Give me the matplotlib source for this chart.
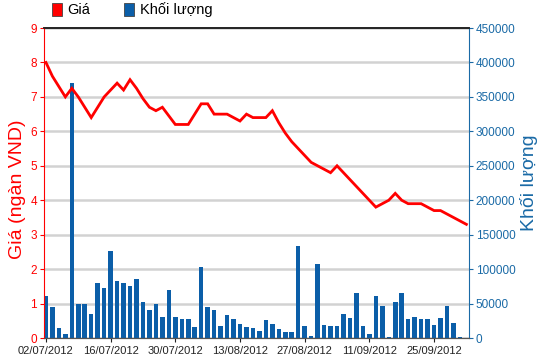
import numpy as np
import matplotlib
matplotlib.use("Agg")
import matplotlib.pyplot as plt
from matplotlib.patches import Patch

plt.rcParams['font.family'] = ['Liberation Sans', 'DejaVu Sans']

# daily price (ngan VND), one value per trading day
price = [8.0, 7.6, 7.3, 7.0, 7.25, 7.0, 6.7, 6.4, 6.7, 7.0,
         7.2, 7.4, 7.2, 7.5, 7.25, 6.95, 6.7, 6.6, 6.7, 6.45,
         6.2, 6.2, 6.2, 6.5, 6.8, 6.8, 6.5, 6.5, 6.5, 6.4,
         6.3, 6.5, 6.4, 6.4, 6.4, 6.6, 6.25, 5.95, 5.7, 5.5,
         5.3, 5.1, 5.0, 4.9, 4.8, 5.0, 4.8, 4.6, 4.4, 4.2,
         4.0, 3.8, 3.9, 4.0, 4.2, 4.0, 3.9, 3.9, 3.9, 3.8,
         3.7, 3.7, 3.6, 3.5, 3.4, 3.3]

# daily volume
volume = [61000, 44500, 14500, 5500, 370000, 49000, 49000, 34500, 79500, 72500,
          127000, 83000, 79500, 75500, 85000, 52000, 40000, 50000, 31000, 69000,
          31000, 27000, 27000, 16000, 103000, 45000, 40000, 18000, 33000, 27500,
          20000, 16500, 14500, 10500, 25500, 20000, 12600, 8700, 8700, 133600,
          17400, 3400, 108000, 19400, 17900, 17900, 34400, 29000, 64900, 17400,
          5300, 61000, 46500, 2000, 52300, 64900, 27100, 31000, 27100, 27100,
          19400, 29000, 46500, 21800, 1500, 0]

tick_pos = [0, 10, 20, 30, 40, 50, 60]
tick_labels = ['02/07/2012', '16/07/2012', '30/07/2012', '13/08/2012',
               '27/08/2012', '11/09/2012', '25/09/2012']

RED = '#ff0000'
BLUE = '#0b5ea8'
AXBLUE = '#1a6aa6'

fig = plt.figure(figsize=(5.5, 3.64), dpi=100, facecolor='white')
ax = fig.add_axes([0.08, 0.0714, 0.7727, 0.8516])
ax2 = ax.twinx()
ax.set_zorder(2)
ax.patch.set_visible(False)
ax2.set_zorder(1)

x = np.arange(len(price))
ax2.bar(x, volume, width=0.7, color=BLUE, zorder=2)
ax.plot(x, price, color=RED, lw=2.0, solid_joinstyle='miter')

ax.set_xlim(-0.3, 65.4)
ax.set_ylim(0, 9)
ax2.set_ylim(0, 450000)

# grid behind bars
ax2.set_yticks(range(0, 450001, 50000))
ax2.set_yticklabels([str(v) for v in range(0, 450001, 50000)])
ax2.yaxis.grid(True, color='#d2d2d2', lw=1.8)
ax2.set_axisbelow(True)

ax.set_yticks(range(0, 10))
ax.set_xticks(tick_pos)
ax.set_xticklabels(tick_labels)

ax.tick_params(axis='y', colors=RED, length=3, labelsize=8.5, pad=2)
ax2.tick_params(axis='y', colors=AXBLUE, length=3, labelsize=8.5, pad=2)
ax.tick_params(axis='x', colors='#222222', length=3, labelsize=8, pad=3)

for a in (ax, ax2):
    a.spines['top'].set_color('#222222')
    a.spines['top'].set_linewidth(1.2)
    a.spines['bottom'].set_color('#555555')
ax.spines['left'].set_color(RED)
ax.spines['right'].set_visible(False)
ax2.spines['left'].set_visible(False)
ax2.spines['right'].set_color(AXBLUE)

ax.set_ylabel('Giá (ngàn VND)', color=RED, fontsize=14)
ax.yaxis.set_label_coords(-0.043, 0.48)
ax2.set_ylabel('Khối lượng', color=AXBLUE, fontsize=14)
ax2.yaxis.set_label_coords(1.12, 0.5)

handles = [Patch(facecolor=RED, edgecolor='#444444', lw=0.6),
           Patch(facecolor=BLUE, edgecolor='#444444', lw=0.6)]
fig.legend(handles=handles, labels=['Giá', 'Khối lượng'], loc='upper left',
           bbox_to_anchor=(0.07, 1.03), ncol=2, frameon=False, fontsize=10.5,
           handlelength=0.7, handleheight=1.0, columnspacing=2.3,
           handletextpad=0.4)

fig.savefig('out.png', dpi=100, facecolor='white')
